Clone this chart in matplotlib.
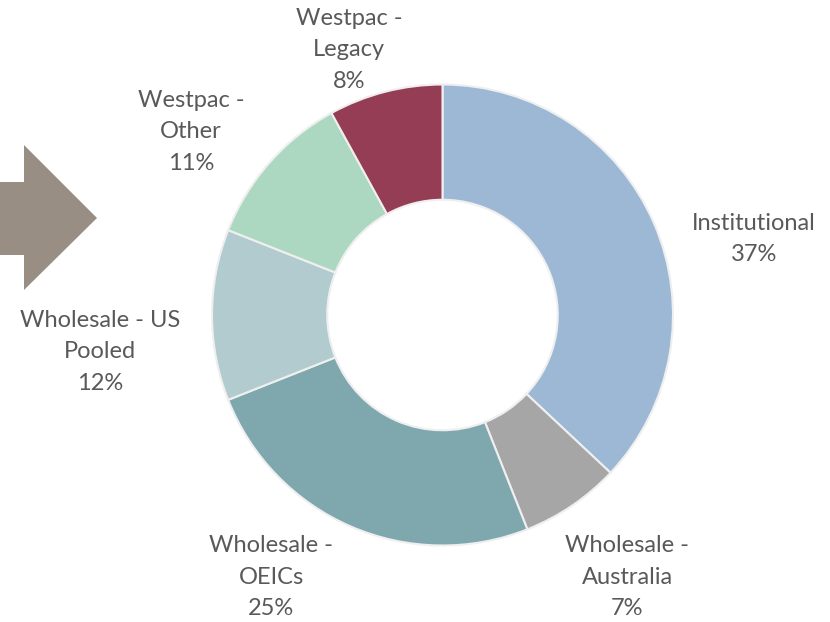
import matplotlib
matplotlib.use("Agg")
import matplotlib.pyplot as plt
from matplotlib.patches import Polygon

categories = ["Institutional", "Wholesale -\nAustralia", "Wholesale -\nOEICs",
              "Wholesale - US\nPooled", "Westpac -\nOther", "Westpac -\nLegacy"]
values = [37, 7, 25, 12, 11, 8]
pct_labels = ["37%", "7%", "25%", "12%", "11%", "8%"]
colors = ["#9DB8D4", "#A6A6A6", "#7FA8AE", "#B2CBCF", "#ACD8C1", "#953D54"]

# label centres in pixel layout (x from left, y from top)
label_pos = [(754, 239), (627, 577), (271, 577), (100, 352), (191, 132), (349, 50)]

W, H = 830, 622
fig = plt.figure(figsize=(8.3, 6.22), dpi=100)
ax = fig.add_axes([0, 0, 1, 1])
ax.axis("off")

cx, cy, R = 442.5, H - 315, 230.5
ax.pie(values, colors=colors, startangle=90, counterclock=False,
       radius=R, center=(cx, cy),
       wedgeprops=dict(width=R * 0.5, edgecolor="#EFEFEF", linewidth=1.5))
ax.set_xlim(0, W)
ax.set_ylim(0, H)
ax.set_aspect("auto")

for cat, pct, (lx, ly) in zip(categories, pct_labels, label_pos):
    ax.text(lx, H - ly, cat + "\n" + pct, ha="center", va="center",
            fontsize=17, color="#595959", family=["Lato", "DejaVu Sans"],
            linespacing=1.62)

# decorative arrow on the left edge
arrow = [(0, 182), (24, 182), (24, 145), (97, 218), (24, 290), (24, 255), (0, 255)]
ax.add_patch(Polygon([(x, H - y) for x, y in arrow], closed=True,
                     facecolor="#998E84", edgecolor="none"))

fig.savefig("out.png", dpi=100)
